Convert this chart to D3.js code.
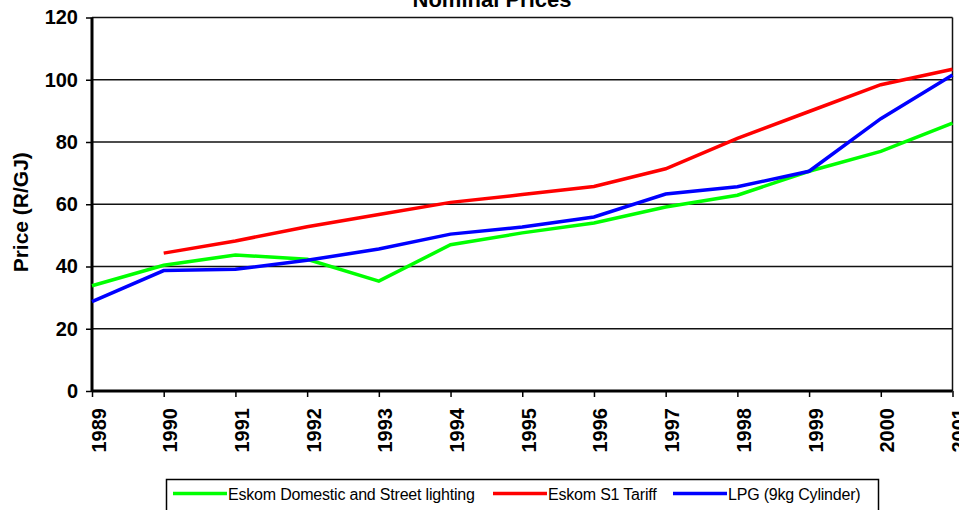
<!DOCTYPE html>
<html>
<head>
<meta charset="utf-8">
<script src="https://cdn.jsdelivr.net/npm/d3@7"></script>
<style>
  body { margin: 0; background: #fff; }
  svg { display: block; font-family: "Liberation Sans", Arial, sans-serif; }
</style>
</head>
<body>
<svg width="959" height="510"></svg>
<script>
var years = [1989, 1990, 1991, 1992, 1993, 1994, 1995, 1996, 1997, 1998, 1999, 2000, 2001]

var domestic = [33.8, 40.4, 43.7, 42.3, 35.3, 47.0, 50.8, 54.0, 59.1, 62.9, 70.6, 77.0, 86.1]
var tariffS1 = [null, 44.3, 48.2, 52.8, 56.7, 60.6, 63.1, 65.7, 71.4, 81.2, 89.8, 98.4, 103.4]
var lpg = [28.7, 38.7, 39.1, 42.0, 45.6, 50.4, 52.7, 55.9, 63.3, 65.6, 70.6, 87.5, 101.5]

var seriesNames = ["Eskom Domestic and Street lighting", "Eskom S1 Tariff", "LPG (9kg Cylinder)"]
var seriesColors = ["#00ff00", "#ff0000", "#0000ff"]
var yTicks = [0, 20, 40, 60, 80, 100, 120]

var margin = { left: 92, top: 17.5, right: 6.5, bottom: 119 },
    width = 959 - margin.left - margin.right,
    height = 510 - margin.top - margin.bottom

var svg = d3.select("svg")

var chart = svg.append("g")
    .attr("transform", "translate(" + margin.left + "," + margin.top + ")")

var xScale = d3.scalePoint()
    .domain(years)
    .range([0, width])

var yScale = d3.scaleLinear()
    .domain([0, 120])
    .range([height, 0])

// gridlines
chart.append("g")
    .selectAll("line")
    .data(yTicks.filter(d => d > 0))
    .join("line")
    .attr("x1", 0)
    .attr("x2", width)
    .attr("y1", d => yScale(d))
    .attr("y2", d => yScale(d))
    .attr("stroke", "#111")
    .attr("stroke-width", 1.5)

// right border
chart.append("line")
    .attr("x1", width).attr("x2", width)
    .attr("y1", 0).attr("y2", height)
    .attr("stroke", "#111")
    .attr("stroke-width", 1.5)

// y axis
var yAxis = d3.axisLeft(yScale)
    .tickValues(yTicks)
    .tickSize(6)
    .tickPadding(8)

var gy = chart.append("g").call(yAxis)
gy.select(".domain").attr("stroke-width", 3).attr("d", "M0," + height + "V0")
gy.selectAll(".tick line").attr("stroke-width", 1.5)
gy.selectAll("text")
    .attr("font-size", 20)
    .attr("font-weight", "bold")
    .attr("font-family", "Liberation Sans, Arial, sans-serif")
    .attr("fill", "#000")

// x axis
var xAxis = d3.axisBottom(xScale)
    .tickSize(6)
    .tickPadding(0)

var gx = chart.append("g")
    .attr("transform", "translate(0," + height + ")")
    .call(xAxis)
gx.select(".domain").attr("stroke-width", 3).attr("d", "M0,0H" + width)
gx.selectAll(".tick line").attr("stroke-width", 1.5)
gx.selectAll("text")
    .attr("font-size", 20)
    .attr("font-weight", "bold")
    .attr("font-family", "Liberation Sans, Arial, sans-serif")
    .attr("fill", "#000")
    .attr("text-anchor", "end")
    .attr("dy", null)
    .attr("transform", "translate(7,17) rotate(-90)")

// lines
var lineGenerator = d3.line()
    .defined(d => d.v != null)
    .x(d => xScale(d.year))
    .y(d => yScale(d.v))

var allSeries = [domestic, tariffS1, lpg]

allSeries.forEach(function (values, i) {
    chart.append("path")
        .datum(years.map((y, j) => ({ year: y, v: values[j] })))
        .attr("fill", "none")
        .attr("stroke", seriesColors[i])
        .attr("stroke-width", 3.5)
        .attr("d", lineGenerator)
})

// title
svg.append("text")
    .attr("x", 492)
    .attr("y", 7)
    .attr("text-anchor", "middle")
    .attr("font-size", 22)
    .attr("font-weight", "bold")
    .text("Nominal Prices")

// y label
svg.append("text")
    .attr("transform", "translate(28," + (margin.top + height / 2 + 8) + ") rotate(-90)")
    .attr("text-anchor", "middle")
    .attr("font-size", 21)
    .attr("font-weight", "bold")
    .text("Price (R/GJ)")

// legend
var legendX = [173, 493, 673]

var legend = svg.append("g")

legend.append("rect")
    .attr("x", 166.5)
    .attr("y", 479.5)
    .attr("width", 712)
    .attr("height", 40)
    .attr("fill", "#fff")
    .attr("stroke", "#000")
    .attr("stroke-width", 1.5)

seriesNames.forEach(function (name, i) {
    legend.append("line")
        .attr("x1", legendX[i])
        .attr("x2", legendX[i] + 54)
        .attr("y1", 493.5)
        .attr("y2", 493.5)
        .attr("stroke", seriesColors[i])
        .attr("stroke-width", 3.5)
    legend.append("text")
        .attr("x", legendX[i] + 55)
        .attr("y", 499.5)
        .attr("font-size", 16)
        .attr("letter-spacing", -0.2)
        .text(name)
})
</script>
</body>
</html>
